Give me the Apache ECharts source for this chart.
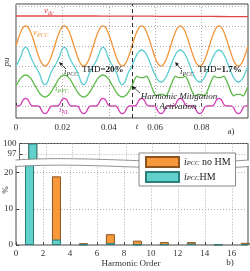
<!DOCTYPE html>
<html>
<head>
<meta charset="utf-8">
<script src="https://cdn.jsdelivr.net/npm/echarts@6/dist/echarts.min.js"></script>
<style>
html, body { margin: 0; padding: 0; background: #fff; }
#chart { width: 250px; height: 271px; }
</style>
</head>
<body>
<div id="chart"></div>
<script>
// panel a) waveforms, 24 samples per 60 Hz cycle (pu, stacked offsets)
const sampleStep = 1 / 1440;
const vdcStep = 1 / 120;
const vdc = [4.50, 4.50, 4.50, 4.50, 4.50, 4.49, 4.49, 4.49, 4.48, 4.48, 4.48, 4.47, 4.47];
const vPCC = [
  3.00, 3.26, 3.50, 3.71, 3.87, 3.97, 4.00, 3.97, 3.87, 3.71, 3.50, 3.26, 3.00, 2.74, 2.50, 2.29, 2.13, 2.03, 2.00, 2.03, 2.13, 2.29, 2.50, 2.74,
  3.00, 3.26, 3.50, 3.71, 3.87, 3.97, 4.00, 3.97, 3.87, 3.71, 3.50, 3.26, 3.00, 2.74, 2.50, 2.29, 2.13, 2.03, 2.00, 2.03, 2.13, 2.29, 2.50, 2.74,
  3.00, 3.26, 3.50, 3.71, 3.87, 3.97, 4.00, 3.97, 3.87, 3.71, 3.50, 3.26, 3.00, 2.74, 2.50, 2.29, 2.13, 2.03, 2.00, 2.03, 2.13, 2.29, 2.50, 2.74,
  3.00, 3.26, 3.50, 3.71, 3.87, 3.97, 4.00, 3.97, 3.87, 3.71, 3.50, 3.26, 3.00, 2.74, 2.50, 2.29, 2.13, 2.03, 2.00, 2.03, 2.13, 2.29, 2.50, 2.74,
  3.00, 3.26, 3.50, 3.71, 3.87, 3.97, 4.00, 3.97, 3.87, 3.71, 3.50, 3.26, 3.00, 2.74, 2.50, 2.29, 2.13, 2.03, 2.00, 2.03, 2.13, 2.29, 2.50, 2.74,
  3.00, 3.26, 3.50, 3.71, 3.87, 3.97, 4.00, 3.97, 3.87, 3.71, 3.50, 3.26, 3.00, 2.74, 2.50, 2.29, 2.13, 2.03, 2.00, 2.03, 2.13, 2.29, 2.50, 2.74,
  3.00
];
const iPCC = [
  2.00, 2.14, 2.29, 2.47, 2.72, 2.88, 2.93, 2.88, 2.72, 2.47, 2.29, 2.14, 2.00, 1.86, 1.71, 1.53, 1.28, 1.12, 1.07, 1.12, 1.28, 1.53, 1.71, 1.86,
  2.00, 2.14, 2.29, 2.47, 2.72, 2.88, 2.93, 2.88, 2.72, 2.47, 2.29, 2.14, 2.00, 1.86, 1.71, 1.53, 1.28, 1.12, 1.07, 1.12, 1.28, 1.53, 1.71, 1.86,
  2.00, 2.14, 2.29, 2.47, 2.72, 2.88, 2.93, 2.88, 2.72, 2.47, 2.29, 2.14, 2.00, 1.86, 1.71, 1.53, 1.28, 1.12, 1.07, 1.12, 1.28, 1.53, 1.71, 1.86,
  2.00, 2.21, 2.40, 2.57, 2.69, 2.77, 2.80, 2.77, 2.69, 2.57, 2.40, 2.21, 2.00, 1.79, 1.60, 1.43, 1.31, 1.23, 1.20, 1.23, 1.31, 1.43, 1.60, 1.79,
  2.00, 2.21, 2.40, 2.57, 2.69, 2.77, 2.80, 2.77, 2.69, 2.57, 2.40, 2.21, 2.00, 1.79, 1.60, 1.43, 1.31, 1.23, 1.20, 1.23, 1.31, 1.43, 1.60, 1.79,
  2.00, 2.21, 2.40, 2.57, 2.69, 2.77, 2.80, 2.77, 2.69, 2.57, 2.40, 2.21, 2.00, 1.79, 1.60, 1.43, 1.31, 1.23, 1.20, 1.23, 1.31, 1.43, 1.60, 1.79,
  2.00
];
const iPFC = [
  1.00, 1.14, 1.28, 1.39, 1.48, 1.53, 1.55, 1.53, 1.48, 1.39, 1.28, 1.14, 1.00, 0.86, 0.72, 0.61, 0.52, 0.47, 0.45, 0.47, 0.52, 0.61, 0.72, 0.86,
  1.00, 1.14, 1.28, 1.39, 1.48, 1.53, 1.55, 1.53, 1.48, 1.39, 1.28, 1.14, 1.00, 0.86, 0.72, 0.61, 0.52, 0.47, 0.45, 0.47, 0.52, 0.61, 0.72, 0.86,
  1.00, 1.14, 1.28, 1.39, 1.48, 1.53, 1.55, 1.53, 1.48, 1.39, 1.28, 1.14, 1.00, 0.86, 0.72, 0.61, 0.52, 0.47, 0.45, 0.47, 0.52, 0.61, 0.72, 0.86,
  1.00, 1.21, 1.39, 1.49, 1.45, 1.42, 1.42, 1.42, 1.45, 1.49, 1.39, 1.21, 1.00, 0.79, 0.61, 0.51, 0.55, 0.58, 0.58, 0.58, 0.55, 0.51, 0.61, 0.79,
  1.00, 1.21, 1.39, 1.49, 1.45, 1.42, 1.42, 1.42, 1.45, 1.49, 1.39, 1.21, 1.00, 0.79, 0.61, 0.51, 0.55, 0.58, 0.58, 0.58, 0.55, 0.51, 0.61, 0.79,
  1.00, 1.21, 1.39, 1.49, 1.45, 1.42, 1.42, 1.42, 1.45, 1.49, 1.39, 1.21, 1.00, 0.79, 0.61, 0.51, 0.55, 0.58, 0.58, 0.58, 0.55, 0.51, 0.61, 0.79,
  1.00
];
const iNL = [
  0, 0, 0.01, 0.08, 0.24, 0.35, 0.38, 0.35, 0.24, 0.08, 0.01, 0, 0, 0, -0.01, -0.08, -0.24, -0.35, -0.38, -0.35, -0.24, -0.08, -0.01, 0,
  0, 0, 0.01, 0.08, 0.24, 0.35, 0.38, 0.35, 0.24, 0.08, 0.01, 0, 0, 0, -0.01, -0.08, -0.24, -0.35, -0.38, -0.35, -0.24, -0.08, -0.01, 0,
  0, 0, 0.01, 0.08, 0.24, 0.35, 0.38, 0.35, 0.24, 0.08, 0.01, 0, 0, 0, -0.01, -0.08, -0.24, -0.35, -0.38, -0.35, -0.24, -0.08, -0.01, 0,
  0, 0, 0.01, 0.08, 0.24, 0.35, 0.38, 0.35, 0.24, 0.08, 0.01, 0, 0, 0, -0.01, -0.08, -0.24, -0.35, -0.38, -0.35, -0.24, -0.08, -0.01, 0,
  0, 0, 0.01, 0.08, 0.24, 0.35, 0.38, 0.35, 0.24, 0.08, 0.01, 0, 0, 0, -0.01, -0.08, -0.24, -0.35, -0.38, -0.35, -0.24, -0.08, -0.01, 0,
  0, 0, 0.01, 0.08, 0.24, 0.35, 0.38, 0.35, 0.24, 0.08, 0.01, 0, 0, 0, -0.01, -0.08, -0.24, -0.35, -0.38, -0.35, -0.24, -0.08, -0.01, 0,
  0
];
const activationTime = 0.05;
const puGridLines = [0, 1, 2, 3, 4, 5];

// panel b) harmonic spectrum (%)
const harmonicOrder = [1, 3, 5, 7, 9, 11, 13, 15, 17];
const noHM = [100, 19, 0.5, 3.0, 1.2, 0.8, 0.8, 0.2, 0.6];
const withHM = [100, 1.5, 0.1, 0.5, 0.1, 0.2, 0.4, 0.1, 0.2];

const serif = '"Liberation Serif", "DejaVu Serif", serif';
const frame = '#444';
const dotted = { show: true, lineStyle: { type: [1, 2], color: '#aaa', width: 1 } };
const colors = { vdc: '#e0474c', vpcc: '#f5953a', ipcc: '#5ccdd2', ipfc: '#5cb947', inl: '#d23cb4' };

const chart = echarts.init(document.getElementById('chart'));

function pairs(arr, step) {
  return arr.map((v, i) => [i * step, v]);
}
function bars(vals) {
  return vals.map((v, i) => [harmonicOrder[i], v]);
}
function wave(name, arr, step, color) {
  return {
    name: name, type: 'line', xAxisIndex: 0, yAxisIndex: 0,
    data: pairs(arr, step), showSymbol: false, smooth: 0.35,
    lineStyle: { color: color, width: 1.3 }, itemStyle: { color: color },
    animation: false, z: 3
  };
}
function label(x, y, parts, color, opts) {
  opts = opts || {};
  const size = opts.size || 9;
  return {
    type: 'text', x: x, y: y, z: 30, rotation: opts.rotation || 0,
    style: {
      text: parts, align: opts.align || 'left', verticalAlign: 'middle',
      rich: {
        i: { fontFamily: serif, fontStyle: 'italic', fontSize: size, fill: color, lineHeight: 11 },
        s: { fontFamily: serif, fontStyle: 'italic', fontSize: 6, fill: color, lineHeight: 8, verticalAlign: 'bottom' },
        n: { fontFamily: serif, fontSize: size, fill: color, lineHeight: 11 },
        b: { fontFamily: serif, fontSize: size, fontWeight: 'bold', fill: color, lineHeight: 11 }
      }
    }
  };
}
function arrow(x1, y1, x2, y2) {
  // line from (x1,y1) to head at (x2,y2)
  const a = Math.atan2(y2 - y1, x2 - x1);
  const L = 4, W = 1.8;
  const bx = x2 - L * Math.cos(a), by = y2 - L * Math.sin(a);
  return [
    { type: 'line', z: 30, shape: { x1: x1, y1: y1, x2: bx, y2: by }, style: { stroke: '#222', lineWidth: 0.8 } },
    { type: 'polygon', z: 30, shape: { points: [[x2, y2], [bx + W * Math.sin(a), by - W * Math.cos(a)], [bx - W * Math.sin(a), by + W * Math.cos(a)]] }, style: { fill: '#222' } }
  ];
}
// white band for the axis break of panel b), bounded by two cubic curves
const breakTop = [[15.5, 160], [90, 155], [170, 166], [249, 160]];
const breakGap = 6.5;
function cubicPts(p, dy) {
  const out = [];
  for (let k = 0; k <= 40; k++) {
    const t = k / 40, u = 1 - t;
    const x = u * u * u * p[0][0] + 3 * u * u * t * p[1][0] + 3 * u * t * t * p[2][0] + t * t * t * p[3][0];
    const y = u * u * u * p[0][1] + 3 * u * u * t * p[1][1] + 3 * u * t * t * p[2][1] + t * t * t * p[3][1];
    out.push([x, y + dy]);
  }
  return out;
}
const bandPts = cubicPts(breakTop, 0).concat(cubicPts(breakTop, breakGap).reverse());

const axisText = { fontFamily: serif, fontSize: 9, color: '#333' };
const tick = { show: true, inside: true, length: 3, lineStyle: { color: frame } };

const option = {
  animation: false,
  grid: [
    { left: 16, top: 4, width: 232, height: 114, show: true, borderColor: frame, borderWidth: 1 },
    { left: 16, top: 143.5, width: 232, height: 21, show: true, borderColor: frame, borderWidth: 1 },
    { left: 16, top: 164.5, width: 232, height: 80.5, show: true, borderColor: frame, borderWidth: 1 }
  ],
  xAxis: [
    { gridIndex: 0, type: 'value', min: 0, max: 0.1, interval: 0.02, axisLine: { show: false }, axisTick: tick,
      axisLabel: Object.assign({ margin: 5, showMaxLabel: false, formatter: v => (v === 0 ? '0' : v.toFixed(2)) }, axisText),
      splitLine: dotted },
    { gridIndex: 1, type: 'value', min: 0, max: 17.2, interval: 2, axisLine: { show: false }, axisTick: { show: false },
      axisLabel: { show: false }, splitLine: dotted },
    { gridIndex: 2, type: 'value', min: 0, max: 17.2, interval: 2, axisLine: { show: false }, axisTick: tick,
      axisLabel: Object.assign({ margin: 4, showMaxLabel: false }, axisText), splitLine: dotted }
  ],
  yAxis: [
    { gridIndex: 0, type: 'value', min: -0.6, max: 5.1, axisLine: { show: false }, axisTick: { show: false },
      axisLabel: { show: false }, splitLine: { show: false } },
    { gridIndex: 1, type: 'value', min: 94, max: 100, interval: 3, axisLine: { show: false }, axisTick: tick,
      axisLabel: Object.assign({ margin: 3, showMinLabel: false }, axisText), splitLine: dotted },
    { gridIndex: 2, type: 'value', min: 0, max: 22.27, interval: 10, axisLine: { show: false }, axisTick: tick,
      axisLabel: Object.assign({ margin: 3, showMaxLabel: false }, axisText), splitLine: dotted }
  ],
  legend: {
    data: ['noHM', 'HM'], orient: 'vertical', left: 139, top: 153, z: 40,
    itemWidth: 33, itemHeight: 10, itemGap: 3, padding: [3, 5, 3, 6], icon: 'rect',
    backgroundColor: '#fff', borderColor: '#888', borderWidth: 1, borderRadius: 0,
    formatter: n => (n === 'noHM' ? '{i|i}{s|PCC}{t| no HM}' : '{i|i}{s|PCC}{t|HM}'),
    textStyle: {
      fontFamily: serif, fontSize: 10, color: '#222',
      rich: {
        i: { fontFamily: serif, fontStyle: 'italic', fontSize: 10, color: '#222', lineHeight: 10 },
        s: { fontFamily: serif, fontStyle: 'italic', fontSize: 6.5, color: '#222', lineHeight: 8, verticalAlign: 'bottom' },
        t: { fontFamily: serif, fontSize: 10, color: '#222', lineHeight: 10 }
      }
    }
  },
  series: [
    Object.assign(wave('vdc', vdc, vdcStep, colors.vdc), {
      markLine: { silent: true, symbol: 'none', label: { show: false }, animation: false,
        lineStyle: { type: [1, 2], color: '#aaa', width: 1 },
        data: puGridLines.map(y => ({ yAxis: y })) }
    }),
    wave('vPCC', vPCC, sampleStep, colors.vpcc),
    Object.assign(wave('iPCC', iPCC, sampleStep, colors.ipcc), {
      markLine: { silent: true, symbol: 'none', label: { show: false }, animation: false,
        lineStyle: { type: [4, 3], color: '#333', width: 1 },
        data: [{ xAxis: activationTime }] }
    }),
    wave('iPFC', iPFC, sampleStep, colors.ipfc),
    wave('iNL', iNL, sampleStep, colors.inl),
    { name: 'noHM', type: 'bar', xAxisIndex: 2, yAxisIndex: 2, barWidth: 9, barGap: '-100%', data: bars(noHM),
      itemStyle: { color: '#f7993a', borderColor: '#8e5420', borderWidth: 1 } },
    { name: 'HM', type: 'bar', xAxisIndex: 2, yAxisIndex: 2, barWidth: 9, barGap: '-100%', data: bars(withHM),
      itemStyle: { color: '#62d0cb', borderColor: '#2a7f7c', borderWidth: 1 } },
    { name: 'noHM', type: 'bar', xAxisIndex: 1, yAxisIndex: 1, barWidth: 9, barGap: '-100%', data: bars(noHM),
      itemStyle: { color: '#f7993a', borderColor: '#8e5420', borderWidth: 1 } },
    { name: 'HM', type: 'bar', xAxisIndex: 1, yAxisIndex: 1, barWidth: 9, barGap: '-100%', data: bars(withHM),
      itemStyle: { color: '#62d0cb', borderColor: '#2a7f7c', borderWidth: 1 } }
  ],
  graphic: [
    { type: 'polygon', z: 20, shape: { points: bandPts }, style: { fill: '#fff' } },
    { type: 'polyline', z: 21, shape: { points: cubicPts(breakTop, 0) }, style: { stroke: '#777', lineWidth: 0.8, fill: null } },
    { type: 'polyline', z: 21, shape: { points: cubicPts(breakTop, breakGap) }, style: { stroke: '#777', lineWidth: 0.8, fill: null } },
    // panel a) annotations
    label(44, 11, '{i|v}{s|dc}', colors.vdc),
    label(33, 33, '{i|v}{s|PCC}', colors.vpcc),
    label(64, 72, '{i|i}{s|PCC}', '#333'),
    label(82, 70, '{n|THD=}{b|20%}', '#111'),
    label(55, 89, '{i|i}{s|PFC}', colors.ipfc),
    label(59, 110, '{i|i}{s|NL}', colors.inl),
    label(180, 72, '{i|i}{s|PCC}', '#333'),
    label(198, 70, '{n|THD=}{b|1.7%}', '#111'),
    label(179, 97, '{i|Harmonic Mitigation}', '#222', { align: 'center' }),
    label(178, 107, '{i|Activation}', '#222', { align: 'center' }),
    label(7, 62, '{i|pu}', '#333', { align: 'center', rotation: Math.PI / 2 }),
    label(137, 127, '{i|t}', '#333', { align: 'center' }),
    label(231, 132, '{n|a)}', '#333', { align: 'center' }),
    // panel b) texts
    label(6, 190, '{n|%}', '#333', { align: 'center', rotation: Math.PI / 2 }),
    label(131, 264, '{n|Harmonic Order}', '#333', { align: 'center' }),
    label(230, 263, '{n|b)}', '#333', { align: 'center' })
  ].concat(arrow(66, 69, 59, 62), arrow(181, 69, 175, 62), arrow(140, 93, 132, 86))
};

chart.setOption(option);
</script>
</body>
</html>
